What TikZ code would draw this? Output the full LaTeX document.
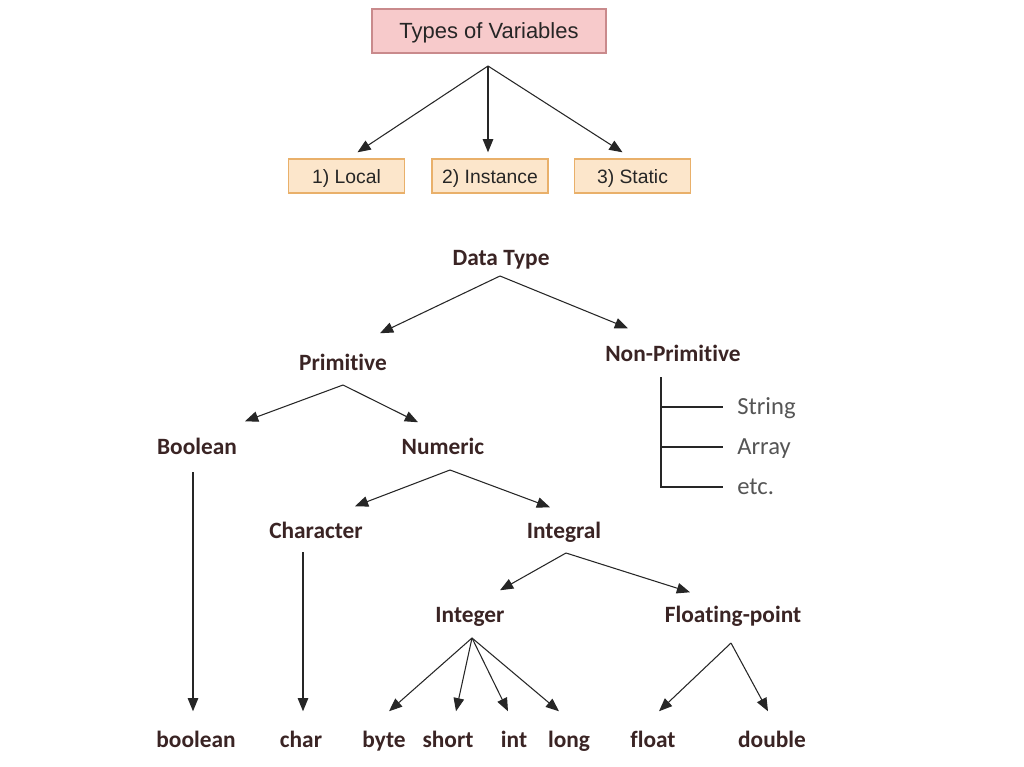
\documentclass[tikz,border=0pt]{standalone}
\usepackage{fontspec}
\setmainfont[Ligatures={NoCommon}]{Carlito}
\newfontfamily\arialf{Liberation Sans}
\usetikzlibrary{arrows.meta,calc}
\definecolor{pinkfill}{HTML}{F7CACB}
\definecolor{pinkdraw}{HTML}{C98A8C}
\definecolor{orfill}{HTML}{FCE6CB}
\definecolor{ordraw}{HTML}{E9B06A}
\definecolor{lbl}{HTML}{3A2424}
\definecolor{sub}{HTML}{555555}
\tikzset{
  px/.style={x=0.02cm,y=-0.02cm},
  topbox/.style={draw=pinkdraw,fill=pinkfill,line width=0.8pt,minimum width=234*0.02cm,minimum height=44*0.02cm,font=\arialf\fontsize{12.5}{14}\selectfont,text=black!85,text height=1.9ex,text depth=0.1ex},
  kindbox/.style={draw=ordraw,fill=orfill,line width=0.8pt,minimum width=116*0.02cm,minimum height=34*0.02cm,font=\arialf\fontsize{11}{13}\selectfont,text=black!85,text height=1.9ex,text depth=0.1ex},
  lab/.style={font=\bfseries\fontsize{13.3}{15}\selectfont,text=lbl,inner sep=0pt,text height=1.7ex,text depth=0.3ex},
  sublab/.style={font=\fontsize{14}{16}\selectfont,text=sub,inner sep=0pt,anchor=west,text height=1.6ex,text depth=0.4ex},
  arr/.style={-{Triangle[length=7.5pt,width=6pt]},line width=0.6pt,black!85},
  tline/.style={line width=0.8pt,black!85},
}
\begin{document}
\begin{tikzpicture}[px]
\useasboundingbox[fill=white] (0,0) rectangle (1024,767);
% Types of variables
\node[topbox] (tv) at (489,31) {Types of Variables};
\node[kindbox] (loc) at (346.5,176) {1) Local};
\node[kindbox] (ins) at (490,176) {2) Instance};
\node[kindbox] (sta) at (632.5,176) {3) Static};
\coordinate (tvs) at (488,66);
\draw[arr] (tvs) -- ($(loc.north)+(11,-6)$);
\draw[arr] (tvs) -- ($(ins.north)+(-2,-6)$);
\draw[arr] (tvs) -- ($(sta.north)+(-10,-6)$);
% Data types
\node[lab] (dt) at (501,260) {Data Type};
\node[lab] (prim) at (343,365) {Primitive};
\node[lab] (nprim) at (673,356) {Non-Primitive};
\node[lab] (bool) at (197,449) {Boolean};
\node[lab] (num) at (443,449) {Numeric};
\node[lab] (chr) at (316,533) {Character};
\node[lab] (igl) at (564,533) {Integral};
\node[lab] (ign) at (470,617) {Integer};
\node[lab] (fp) at (733,617) {Floating-point};
\node[lab] (lboolean) at (196,742) {boolean};
\node[lab] (lchar) at (301,742) {char};
\node[lab] (lbyte) at (384,742) {byte};
\node[lab] (lshort) at (448,742) {short};
\node[lab] (lint) at (514,742) {int};
\node[lab] (llong) at (569,742) {long};
\node[lab] (lfloat) at (653,742) {float};
\node[lab] (ldouble) at (772,742) {double};
\node[sublab] (str) at (737,409) {String};
\node[sublab] (arrn) at (737,449) {Array};
\node[sublab] (etc) at (737,489) {etc.};
% connectors
\coordinate (dts) at (500,276);
\draw[arr] (dts) -- ($(prim.north)+(37,-23)$);
\draw[arr] (dts) -- ($(nprim.north)+(-45,-19)$);
\coordinate (prs) at (343,385);
\draw[arr] (prs) -- ($(bool.north)+(48,-19)$);
\draw[arr] (prs) -- ($(num.north)+(-25,-18)$);
\coordinate (nus) at (450,470);
\draw[arr] (nus) -- ($(chr.north)+(39,-18)$);
\draw[arr] (nus) -- ($(igl.north)+(-14,-17)$);
\coordinate (ils) at (566,553);
\draw[arr] (ils) -- ($(ign.north)+(30,-18)$);
\draw[arr] (ils) -- ($(fp.north)+(-43,-16)$);
\coordinate (bos) at (193,472);
\draw[arr] (bos) -- ($(lboolean.north)+(-3,-22)$);
\coordinate (chs) at (303,552);
\draw[arr] (chs) -- ($(lchar.north)+(2,-22)$);
\coordinate (ins2) at (472,638);
\draw[arr] (ins2) -- ($(lbyte.north)+(5,-22)$);
\draw[arr] (ins2) -- ($(lshort.north)+(8,-22)$);
\draw[arr] (ins2) -- ($(lint.north)+(-6,-22)$);
\draw[arr] (ins2) -- ($(llong.north)+(-10,-22)$);
\coordinate (fps) at (731,643);
\draw[arr] (fps) -- ($(lfloat.north)+(6,-22)$);
\draw[arr] (fps) -- ($(ldouble.north)+(-4,-22)$);
% non-primitive tree
\coordinate (nps) at (661,377);
\draw[tline] (nps) |- (723,487);
\draw[tline] (nps |- 0,407) -- (723,407);
\draw[tline] (nps |- 0,447) -- (723,447);
\end{tikzpicture}
\end{document}
